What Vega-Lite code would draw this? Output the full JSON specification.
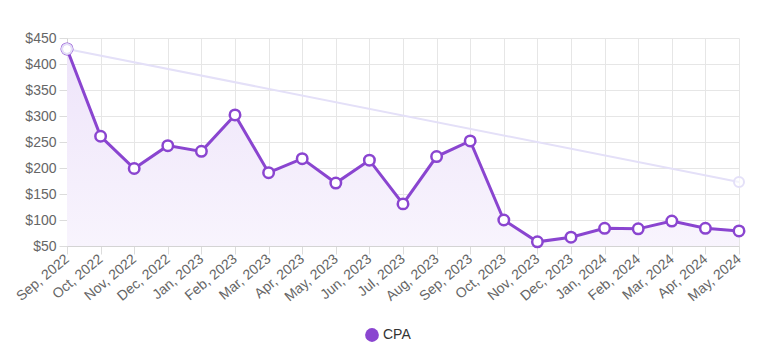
{
  "$schema": "https://vega.github.io/schema/vega-lite/v6.json",
  "width": 672,
  "height": 208,
  "autosize": {"type": "none"},
  "padding": {"left": 67, "top": 38, "right": 32, "bottom": 109},
  "background": "white",
  "config": {
    "view": {"stroke": null},
    "font": "Liberation Sans",
    "axis": {"labelFont": "Liberation Sans", "labelFontSize": 14, "labelColor": "#666666", "gridColor": "#e6e6e6", "tickColor": "#dcdcdc", "domainColor": "#d4d4d4", "title": null, "labelOverlap": false, "labelFlush": false}
  },
  "datasets": {
    "cpa": [
      {"month": "Sep, 2022", "value": 429},
      {"month": "Oct, 2022", "value": 261},
      {"month": "Nov, 2022", "value": 199},
      {"month": "Dec, 2022", "value": 243},
      {"month": "Jan, 2023", "value": 232},
      {"month": "Feb, 2023", "value": 302},
      {"month": "Mar, 2023", "value": 191},
      {"month": "Apr, 2023", "value": 218},
      {"month": "May, 2023", "value": 171},
      {"month": "Jun, 2023", "value": 215},
      {"month": "Jul, 2023", "value": 131},
      {"month": "Aug, 2023", "value": 222},
      {"month": "Sep, 2023", "value": 252},
      {"month": "Oct, 2023", "value": 100},
      {"month": "Nov, 2023", "value": 58},
      {"month": "Dec, 2023", "value": 67},
      {"month": "Jan, 2024", "value": 84},
      {"month": "Feb, 2024", "value": 83},
      {"month": "Mar, 2024", "value": 98},
      {"month": "Apr, 2024", "value": 84},
      {"month": "May, 2024", "value": 79}
    ],
    "trend": [
      {"month": "Sep, 2022", "value": 429},
      {"month": "May, 2024", "value": 173}
    ]
  },
  "encoding": {
    "x": {
      "field": "month", "type": "ordinal", "sort": null,
      "scale": {"type": "point", "padding": 0, "domain": ["Sep, 2022","Oct, 2022","Nov, 2022","Dec, 2022","Jan, 2023","Feb, 2023","Mar, 2023","Apr, 2023","May, 2023","Jun, 2023","Jul, 2023","Aug, 2023","Sep, 2023","Oct, 2023","Nov, 2023","Dec, 2023","Jan, 2024","Feb, 2024","Mar, 2024","Apr, 2024","May, 2024"]},
      "axis": {"labelAngle": -40, "labelAlign": "right", "labelBaseline": "middle", "tickSize": 8, "labelPadding": 3, "grid": true, "domain": true}
    },
    "y": {"field": "value", "type": "quantitative", "scale": {"domain": [50, 450], "zero": false, "nice": false}, "axis": {"values": [50,100,150,200,250,300,350,400,450], "tickCount": 9, "format": "$,.0f", "tickSize": 8, "labelPadding": 3, "grid": true}}
  },
  "layer": [
    {
      "data": {"name": "cpa"},
      "mark": {"type": "area", "color": {"gradient": "linear", "x1": 0, "y1": 0, "x2": 0, "y2": 1, "stops": [{"offset": 0, "color": "#eee4fa"}, {"offset": 1, "color": "#f8f4fd"}]}},
      "encoding": {"y2": {"datum": 50}}
    },
    {
      "data": {"name": "trend"},
      "mark": {"type": "line", "color": "#e4e0f8", "strokeWidth": 2}
    },
    {
      "data": {"name": "cpa"},
      "mark": {"type": "line", "strokeWidth": 3},
      "encoding": {
        "color": {"datum": "CPA", "scale": {"range": ["#8a45d0"]}, "legend": {"title": null, "orient": "none", "legendX": 298, "legendY": 290, "symbolType": "circle", "symbolSize": 190, "labelFontSize": 14, "labelColor": "#333333", "labelFont": "Liberation Sans", "encode": {"symbols": {"update": {"fill": {"value": "#8a45d0"}, "strokeWidth": {"value": 0}}}}}}
      }
    },
    {
      "data": {"name": "cpa"},
      "mark": {"type": "point", "filled": true, "fill": "white", "stroke": "#8a45d0", "strokeWidth": 2.5, "size": 110, "opacity": 1}
    },
    {
      "data": {"name": "trend"},
      "mark": {"type": "point", "filled": true, "fill": "white", "fillOpacity": 0.6, "stroke": "#e4e0f8", "strokeWidth": 2, "size": 100, "opacity": 1}
    }
  ]
}
